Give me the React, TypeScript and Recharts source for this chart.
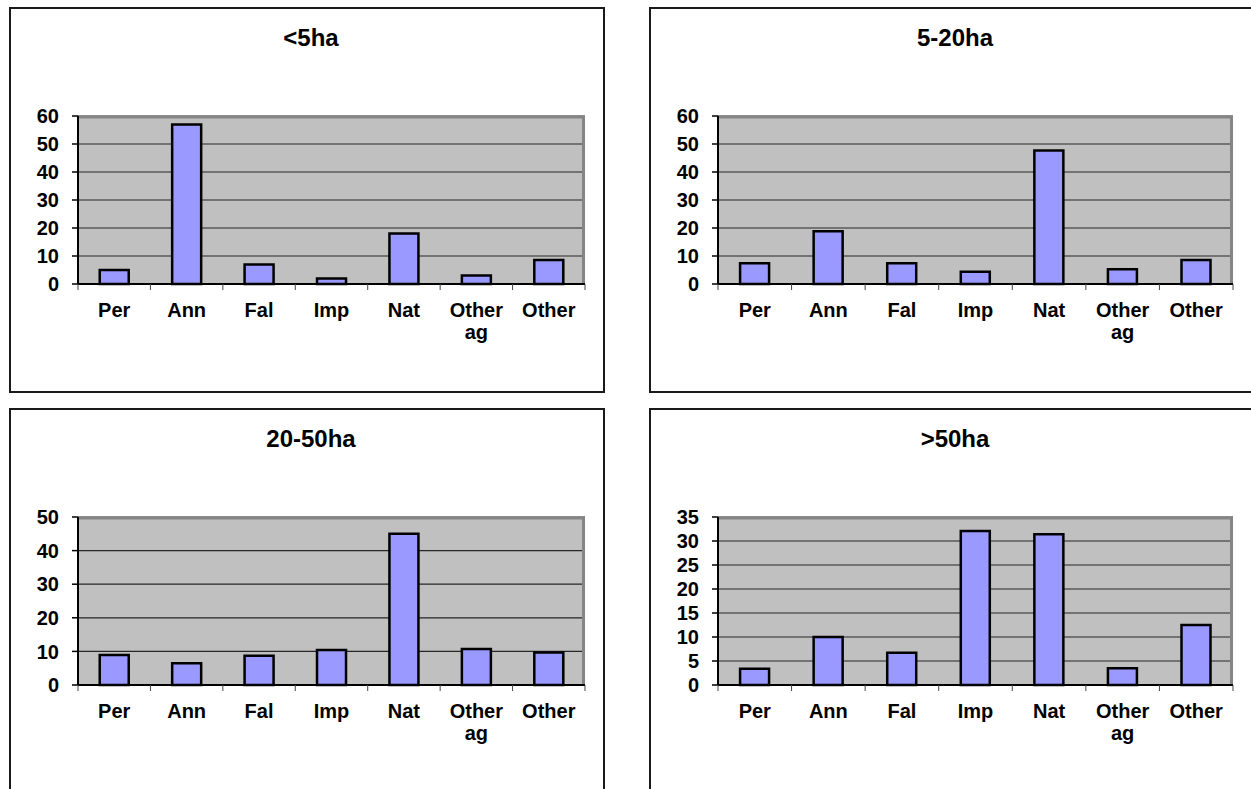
import React from 'react';
import { BarChart, Bar, XAxis, YAxis, CartesianGrid } from 'recharts';

// land use shares by farm size class
const categories = ['Per', 'Ann', 'Fal', 'Imp', 'Nat', 'Other ag', 'Other'];

const under5ha = [5, 57, 7, 2, 18, 3, 8.6];
const from5to20ha = [7.4, 18.8, 7.4, 4.4, 47.7, 5.3, 8.6];
const from20to50ha = [8.9, 6.5, 8.7, 10.4, 45, 10.7, 9.7];
const over50ha = [3.4, 10, 6.7, 32.1, 31.4, 3.5, 12.5];

const ticksTo60 = [0, 10, 20, 30, 40, 50, 60];
const ticksTo50 = [0, 10, 20, 30, 40, 50];
const ticksTo35 = [0, 5, 10, 15, 20, 25, 30, 35];

const FONT = '"Liberation Sans", Arial, sans-serif';
const PLOT_LEFT = 69;
const PLOT_TOP = 109;
const PLOT_H = 168;
const Y_AXIS_W = 60;
const X_AXIS_H = 70;
const TICK_SIZE = 6;
const TICK_MARGIN = 13;

const toRows = (values: number[]) => categories.map((name, i) => ({ name, v: values[i] }));

function CategoryTick(props: any) {
  const { x, y, payload, index, bandHalf } = props;
  const lines = String(payload.value).split(' ');
  const axisY = y - TICK_SIZE - TICK_MARGIN;
  const half = typeof payload.offset === 'number' && payload.offset > 0 ? payload.offset : bandHalf;
  return (
    <g>
      <line x1={x - half} x2={x - half} y1={axisY} y2={axisY + TICK_SIZE} stroke="#444" strokeWidth={1} />
      {index === categories.length - 1 && (
        <line x1={x + half} x2={x + half} y1={axisY} y2={axisY + TICK_SIZE} stroke="#444" strokeWidth={1} />
      )}
      <text x={x} y={y} textAnchor="middle" fontFamily={FONT} fontWeight="bold" fontSize={20} fill="#000">
        {lines.map((line, i) => (
          <tspan key={i} x={x} dy={i === 0 ? '0.71em' : '1.1em'}>
            {line}
          </tspan>
        ))}
      </text>
    </g>
  );
}

interface PanelProps {
  title: string;
  values: number[];
  ticks: number[];
  left: number;
  top: number;
  width: number;
  height: number;
  plotRight: number;
  titleCenter: number;
}

function Panel({ title, values, ticks, left, top, width, height, plotRight, titleCenter }: PanelProps) {
  const bandHalf = (plotRight - PLOT_LEFT) / categories.length / 2;
  const maxY = ticks[ticks.length - 1];
  return (
    <div style={{ position: 'absolute', left, top, width, height }}>
      <div
        style={{
          position: 'absolute',
          left: 0,
          top: 0,
          width,
          height,
          boxSizing: 'border-box',
          border: '2px solid #1a1a1a',
        }}
      />
      <div
        style={{
          position: 'absolute',
          top: 19,
          left: 0,
          width: titleCenter * 2,
          textAlign: 'center',
          fontFamily: FONT,
          fontWeight: 'bold',
          fontSize: 24,
          lineHeight: '24px',
          color: '#000',
        }}
      >
        {title}
      </div>
      <div style={{ position: 'absolute', left: 0, top: 0 }}>
        <BarChart
          width={width}
          height={height}
          data={toRows(values)}
          barCategoryGap="30%"
          margin={{
            top: PLOT_TOP,
            left: PLOT_LEFT - Y_AXIS_W,
            right: width - plotRight,
            bottom: height - PLOT_TOP - PLOT_H - X_AXIS_H,
          }}
        >
          <CartesianGrid vertical={false} fill="#c0c0c0" fillOpacity={1} stroke="#262626" strokeWidth={1.2} />
          <CartesianGrid
            horizontalCoordinatesGenerator={({ offset }: any) => [offset.top + 1]}
            verticalCoordinatesGenerator={({ offset }: any) => [offset.left + offset.width - 1.5]}
            stroke="#858585"
            strokeWidth={3}
          />
          <XAxis
            dataKey="name"
            height={X_AXIS_H}
            interval={0}
            tickLine={false}
            tickSize={TICK_SIZE}
            tickMargin={TICK_MARGIN}
            axisLine={{ stroke: '#000', strokeWidth: 2 }}
            tick={<CategoryTick bandHalf={bandHalf} />}
          />
          <YAxis
            width={Y_AXIS_W}
            domain={[0, maxY]}
            ticks={ticks}
            interval={0}
            tickSize={TICK_SIZE}
            tickMargin={TICK_MARGIN}
            axisLine={{ stroke: '#000', strokeWidth: 2 }}
            tickLine={{ stroke: '#000', strokeWidth: 1.5 }}
            tick={{ fontFamily: FONT, fontWeight: 'bold', fontSize: 20, fill: '#000' }}
          />
          <Bar dataKey="v" fill="#9999ff" stroke="#000" strokeWidth={2.5} isAnimationActive={false} />
        </BarChart>
      </div>
    </div>
  );
}

export default function App() {
  return (
    <div
      style={{
        position: 'fixed',
        left: 0,
        top: 0,
        width: 1251,
        height: 789,
        overflow: 'hidden',
        background: '#fff',
      }}
    >
      <Panel title="<5ha" values={under5ha} ticks={ticksTo60}
        left={9} top={7} width={596} height={386} plotRight={576} titleCenter={302} />
      <Panel title="5-20ha" values={from5to20ha} ticks={ticksTo60}
        left={649} top={7} width={612} height={386} plotRight={584} titleCenter={306} />
      <Panel title="20-50ha" values={from20to50ha} ticks={ticksTo50}
        left={9} top={408} width={596} height={400} plotRight={576} titleCenter={302} />
      <Panel title=">50ha" values={over50ha} ticks={ticksTo35}
        left={649} top={408} width={612} height={400} plotRight={584} titleCenter={306} />
    </div>
  );
}
